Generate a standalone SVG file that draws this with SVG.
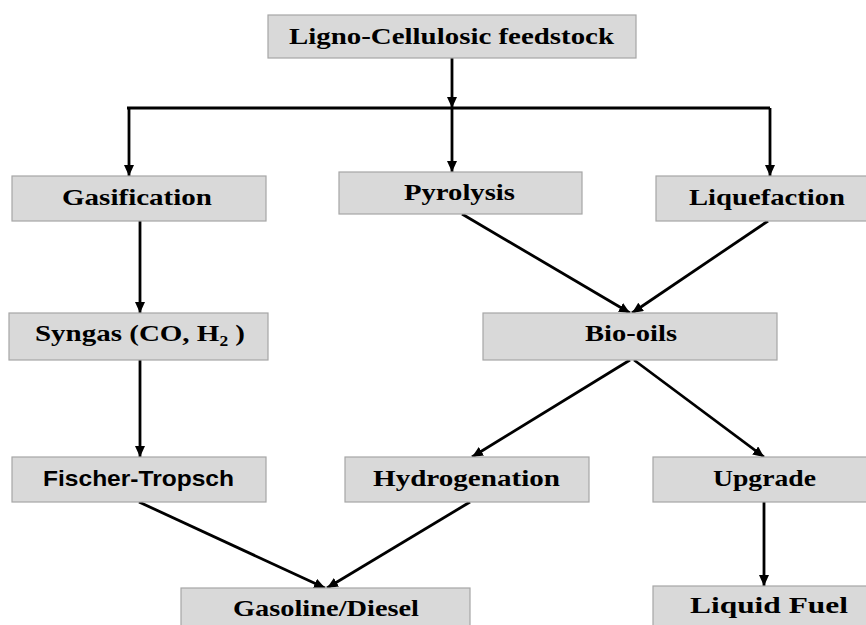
<svg xmlns="http://www.w3.org/2000/svg" width="866" height="625" viewBox="0 0 866 625">
<style>
.box{fill:#d9d9d9;stroke:#a6a6a6;stroke-width:1.2}
.t{font-family:"Liberation Serif","Times New Roman",serif;font-weight:bold;font-size:24px;fill:#000;text-anchor:middle}
.s{font-family:"Liberation Sans",Arial,sans-serif;font-size:22px}
.c{stroke:#000;stroke-width:2.8;fill:none}
.a{marker-end:url(#ah)}
</style>
<defs>
<marker id="ah" markerUnits="userSpaceOnUse" markerWidth="12" markerHeight="10" refX="11" refY="5" orient="auto">
<path d="M0,0 L11,5 L0,10 z" fill="#000"/>
</marker>
</defs>
<rect width="866" height="625" fill="#fff"/>
<g id="connectors">
<line class="c" x1="127" y1="108" x2="770" y2="108"/>
<line class="c a" x1="452" y1="58" x2="452" y2="108"/>
<line class="c a" x1="129" y1="108" x2="129" y2="176"/>
<line class="c a" x1="452" y1="108" x2="452" y2="172"/>
<line class="c a" x1="770" y1="108" x2="770" y2="176"/>
<line class="c a" x1="140" y1="221" x2="140" y2="313"/>
<line class="c a" x1="462" y1="214" x2="630" y2="313"/>
<line class="c a" x1="768" y1="221" x2="632" y2="313"/>
<line class="c a" x1="140" y1="360" x2="140" y2="457"/>
<line class="c a" x1="630" y1="360" x2="472" y2="457"/>
<line class="c a" x1="634" y1="360" x2="764" y2="457"/>
<line class="c a" x1="139" y1="502" x2="325" y2="588"/>
<line class="c a" x1="470" y1="502" x2="327" y2="588"/>
<line class="c a" x1="764" y1="502" x2="764" y2="586"/>
</g>
<g id="feedstock"><rect class="box" x="268" y="15" width="368" height="43"/><text class="t" x="451.5" y="44" textLength="325" lengthAdjust="spacingAndGlyphs">Ligno-Cellulosic feedstock</text></g>
<g id="gasification"><rect class="box" x="12" y="176" width="254" height="45"/><text class="t" x="137" y="205" textLength="150" lengthAdjust="spacingAndGlyphs">Gasification</text></g>
<g id="pyrolysis"><rect class="box" x="339" y="172" width="243" height="42"/><text class="t" x="459.5" y="200" textLength="111" lengthAdjust="spacingAndGlyphs">Pyrolysis</text></g>
<g id="liquefaction"><rect class="box" x="656" y="176" width="214" height="45"/><text class="t" x="767" y="205" textLength="156" lengthAdjust="spacingAndGlyphs">Liquefaction</text></g>
<g id="syngas"><rect class="box" x="9" y="313" width="259" height="47"/><text class="t" x="140" y="341" textLength="210" lengthAdjust="spacingAndGlyphs">Syngas (CO, H₂ )</text></g>
<g id="biooils"><rect class="box" x="483" y="313" width="294" height="47"/><text class="t" x="631" y="341" textLength="92" lengthAdjust="spacingAndGlyphs">Bio-oils</text></g>
<g id="fischer"><rect class="box" x="12" y="457" width="254" height="45"/><text class="t s" x="138.5" y="486" textLength="191" lengthAdjust="spacingAndGlyphs">Fischer-Tropsch</text></g>
<g id="hydrogenation"><rect class="box" x="345" y="457" width="244" height="45"/><text class="t" x="466.5" y="486" textLength="187" lengthAdjust="spacingAndGlyphs">Hydrogenation</text></g>
<g id="upgrade"><rect class="box" x="653" y="457" width="217" height="45"/><text class="t" x="764.5" y="486" textLength="103" lengthAdjust="spacingAndGlyphs">Upgrade</text></g>
<g id="gasoline"><rect class="box" x="181" y="588" width="289" height="45"/><text class="t" x="326" y="616" textLength="186" lengthAdjust="spacingAndGlyphs">Gasoline/Diesel</text></g>
<g id="liquidfuel"><rect class="box" x="653" y="586" width="217" height="45"/><text class="t" x="769" y="613" textLength="158" lengthAdjust="spacingAndGlyphs">Liquid Fuel</text></g>
</svg>
